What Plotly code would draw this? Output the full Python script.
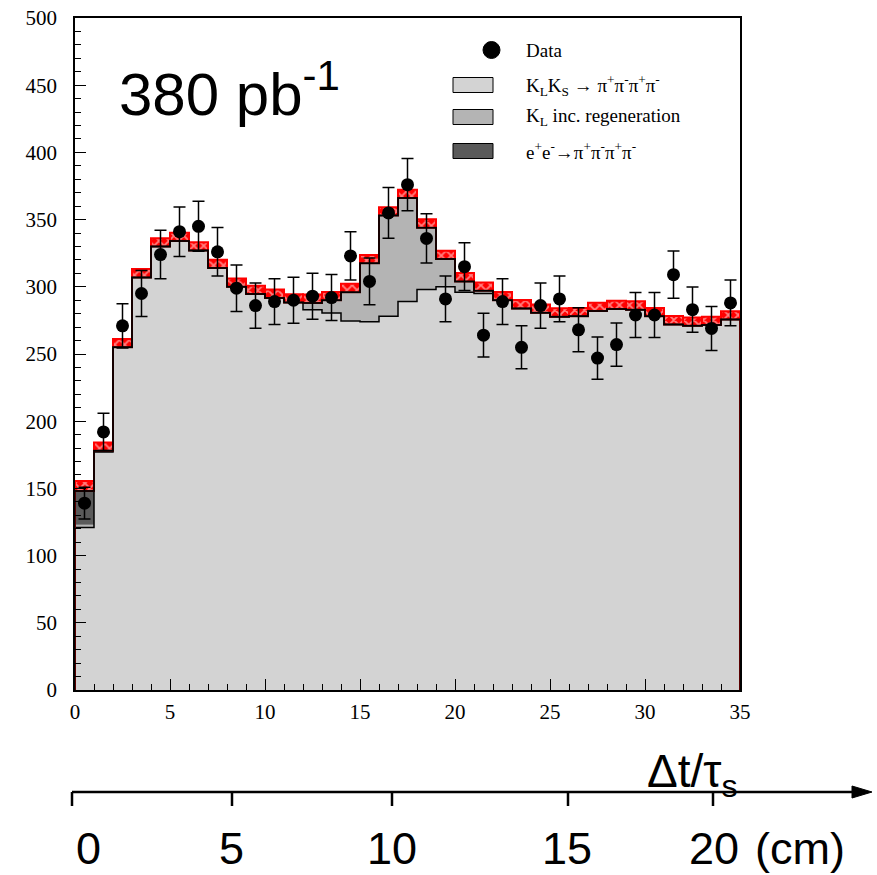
import numpy as np
import plotly.graph_objects as go

W, H = 877, 875

# ---------------- data ----------------
bin_edges = list(range(0, 36))
data_counts = [139, 192, 271, 295, 324, 341, 345, 326, 299, 286, 289, 290, 293, 292,
               323, 304, 355, 376, 336, 291, 315, 264, 289, 255, 286, 291, 268, 247,
               257, 279, 279, 309, 283, 269, 288]
mc_total = [148, 178, 255, 307, 330, 334, 327, 314, 300, 294.6, 291.7, 288.3, 288, 290,
            296, 317.5, 353, 366, 344, 320.7, 304, 297, 290, 283.9, 280.7, 277.8, 278,
            282, 283.5, 283, 278, 272, 271, 271.6, 275.7]
mc_klks = [121, 177, 255, 307, 330, 334, 327, 314, 300, 294.6, 291.7, 288.3, 283, 280.5,
           274.5, 274, 278, 289, 298, 300, 296, 295, 290, 283.9, 280.7, 277.8, 278,
           282, 283.5, 283, 278, 272, 271, 271.6, 275.7]
mc_ee = [25, 1] + [0] * 33
mc_err = [7.5] + [6.2] * 34

legend_labels = ["Data",
                 "K<sub>L</sub>K<sub>S</sub> → π<sup>+</sup>π<sup>-</sup>π<sup>+</sup>π<sup>-</sup>",
                 "K<sub>L</sub> inc. regeneration",
                 "e<sup>+</sup>e<sup>-</sup>→π<sup>+</sup>π<sup>-</sup>π<sup>+</sup>π<sup>-</sup>"]
cm_labels = ["0", "5", "10", "15", "20"]
cm_tick_px = [72, 232, 392, 568, 713]

C_LIGHT = "#d3d3d3"
C_MED = "#b4b4b4"
C_DARK = "#5a5a5a"

edges = np.array(bin_edges, dtype=float)
centers = 0.5 * (edges[:-1] + edges[1:])
tot = np.array(mc_total)
klks = np.array(mc_klks)
ee = np.array(mc_ee)
klks_reg = tot - ee
err = np.array(mc_err)
dat = np.array(data_counts)


def fx(p):
    return p / W


def fy(p):
    return 1 - p / H


def step(vals):
    return list(edges), list(vals) + [vals[-1]]


fig = go.Figure()

# stacked fills
sx, sy = step(klks)
fig.add_trace(go.Scatter(x=sx, y=sy, mode="lines", line=dict(shape="hv", width=0),
                         fill="tozeroy", fillcolor=C_LIGHT, hoverinfo="skip", showlegend=False))
sx, sy = step(klks_reg)
fig.add_trace(go.Scatter(x=sx, y=sy, mode="lines", line=dict(shape="hv", width=0),
                         fill="tonexty", fillcolor=C_MED, hoverinfo="skip", showlegend=False))
sx, sy = step(tot)
fig.add_trace(go.Scatter(x=sx, y=sy, mode="lines", line=dict(shape="hv", width=0),
                         fill="tonexty", fillcolor=C_DARK, hoverinfo="skip", showlegend=False))

# MC error band (hatched red)
fig.add_trace(go.Bar(x=centers, y=2 * err, base=tot - err, width=1.0,
                     marker=dict(color="red",
                                 pattern=dict(shape="x", fgcolor="white", bgcolor="red",
                                              size=7, solidity=0.45),
                                 line=dict(color="red", width=2)),
                     hoverinfo="skip", showlegend=False))

# outline lines
sx, sy = step(klks)
fig.add_trace(go.Scatter(x=sx, y=sy, mode="lines", line=dict(shape="hv", width=1.5, color="black"),
                         hoverinfo="skip", showlegend=False))
# outer edges of histogram (dark red)
ox = [edges[0], edges[0]] + list(edges[1:]) + [edges[-1]]
oy = [0, tot[0]] + list(tot[1:]) + [tot[-1], 0]
fig.add_trace(go.Scatter(x=ox, y=oy[:len(ox)], mode="lines",
                         line=dict(shape="hv", width=2, color="#5a0000"),
                         hoverinfo="skip", showlegend=False))
sx, sy = step(tot)
fig.add_trace(go.Scatter(x=sx, y=sy, mode="lines", line=dict(shape="hv", width=1.5, color="black"),
                         hoverinfo="skip", showlegend=False))

# data
fig.add_trace(go.Scatter(x=centers, y=dat, mode="markers",
                         marker=dict(color="black", size=13),
                         error_y=dict(type="data", array=np.sqrt(dat), color="black",
                                      thickness=1.5, width=6),
                         showlegend=False))

tickfont = dict(family="Liberation Serif", size=21, color="black")
fig.update_layout(
    width=W, height=H, margin=dict(l=0, r=0, t=0, b=0, autoexpand=False),
    font=dict(family="Liberation Serif", color="black"),
    paper_bgcolor="white", plot_bgcolor="white", barmode="overlay",
    xaxis=dict(domain=[fx(75), fx(740)], range=[0, 35], dtick=5, ticks="inside",
               ticklen=11, tickwidth=1.2, tickcolor="black", automargin=False,
               minor=dict(dtick=1, ticks="inside", ticklen=6, tickwidth=1.2, tickcolor="black"),
               showline=True, linecolor="black", linewidth=1.5, mirror=True,
               showgrid=False, zeroline=False, tickfont=tickfont, ticklabelstandoff=2),
    yaxis=dict(domain=[fy(690), fy(18)], range=[0, 500], dtick=50, ticks="inside",
               ticklen=11, tickwidth=1.2, tickcolor="black", automargin=False,
               minor=dict(dtick=10, ticks="inside", ticklen=6, tickwidth=1.2, tickcolor="black"),
               showline=True, linecolor="black", linewidth=1.5, mirror=True,
               showgrid=False, zeroline=False, tickfont=tickfont, ticklabelstandoff=12),
)

shapes = []
annotations = []

# legend
leg_y = [50, 85, 117, 151]
shapes.append(dict(type="circle", xref="paper", yref="paper",
                   x0=fx(483), x1=fx(500), y0=fy(58.5), y1=fy(41.5),
                   fillcolor="black", line=dict(color="black", width=1)))
for yc, col in zip(leg_y[1:], [C_LIGHT, C_MED, C_DARK]):
    shapes.append(dict(type="rect", xref="paper", yref="paper",
                       x0=fx(453), x1=fx(493), y0=fy(yc + 7.5), y1=fy(yc - 7.5),
                       fillcolor=col, line=dict(color="black", width=1)))
for yc, lab in zip(leg_y, legend_labels):
    annotations.append(dict(text=lab, xref="paper", yref="paper", x=fx(524), y=fy(yc),
                            xanchor="left", yanchor="middle", showarrow=False,
                            font=dict(family="Liberation Serif", size=19, color="black")))

# luminosity label
annotations.append(dict(text="380 pb<sup>-1</sup>", xref="paper", yref="paper",
                        x=fx(117), y=fy(90), xanchor="left", yanchor="middle", showarrow=False,
                        font=dict(family="Liberation Sans", size=60, color="black")))

# bottom cm axis with arrow
ax_y = 792
shapes.append(dict(type="line", xref="paper", yref="paper", x0=fx(72), x1=fx(860),
                   y0=fy(ax_y), y1=fy(ax_y), line=dict(color="black", width=2.5)))
shapes.append(dict(type="path", xref="paper", yref="paper",
                   path=f"M {fx(852)} {fy(ax_y-6)} L {fx(872)} {fy(ax_y)} L {fx(852)} {fy(ax_y+6)} Z",
                   fillcolor="black", line=dict(color="black", width=1)))
for p in cm_tick_px:
    shapes.append(dict(type="line", xref="paper", yref="paper", x0=fx(p), x1=fx(p),
                       y0=fy(ax_y), y1=fy(ax_y + 14), line=dict(color="black", width=2.5)))
label_px = [88, 232, 392, 567, 714]
for p, lab in zip(label_px, cm_labels):
    annotations.append(dict(text=lab, xref="paper", yref="paper", x=fx(p), y=fy(848),
                            xanchor="center", yanchor="middle", showarrow=False, borderpad=0,
                            font=dict(family="Liberation Sans", size=45, color="black")))
annotations.append(dict(text="(cm)", xref="paper", yref="paper", x=fx(754), y=fy(848),
                        xanchor="left", yanchor="middle", showarrow=False, borderpad=0,
                        font=dict(family="Liberation Sans", size=45, color="black")))
annotations.append(dict(text="Δt/τ<sub>s</sub>", xref="paper", yref="paper", x=fx(645), y=fy(774),
                        xanchor="left", yanchor="middle", showarrow=False,
                        font=dict(family="Liberation Sans", size=46, color="black")))

fig.update_layout(shapes=shapes, annotations=annotations)
fig.write_html("out.html")
